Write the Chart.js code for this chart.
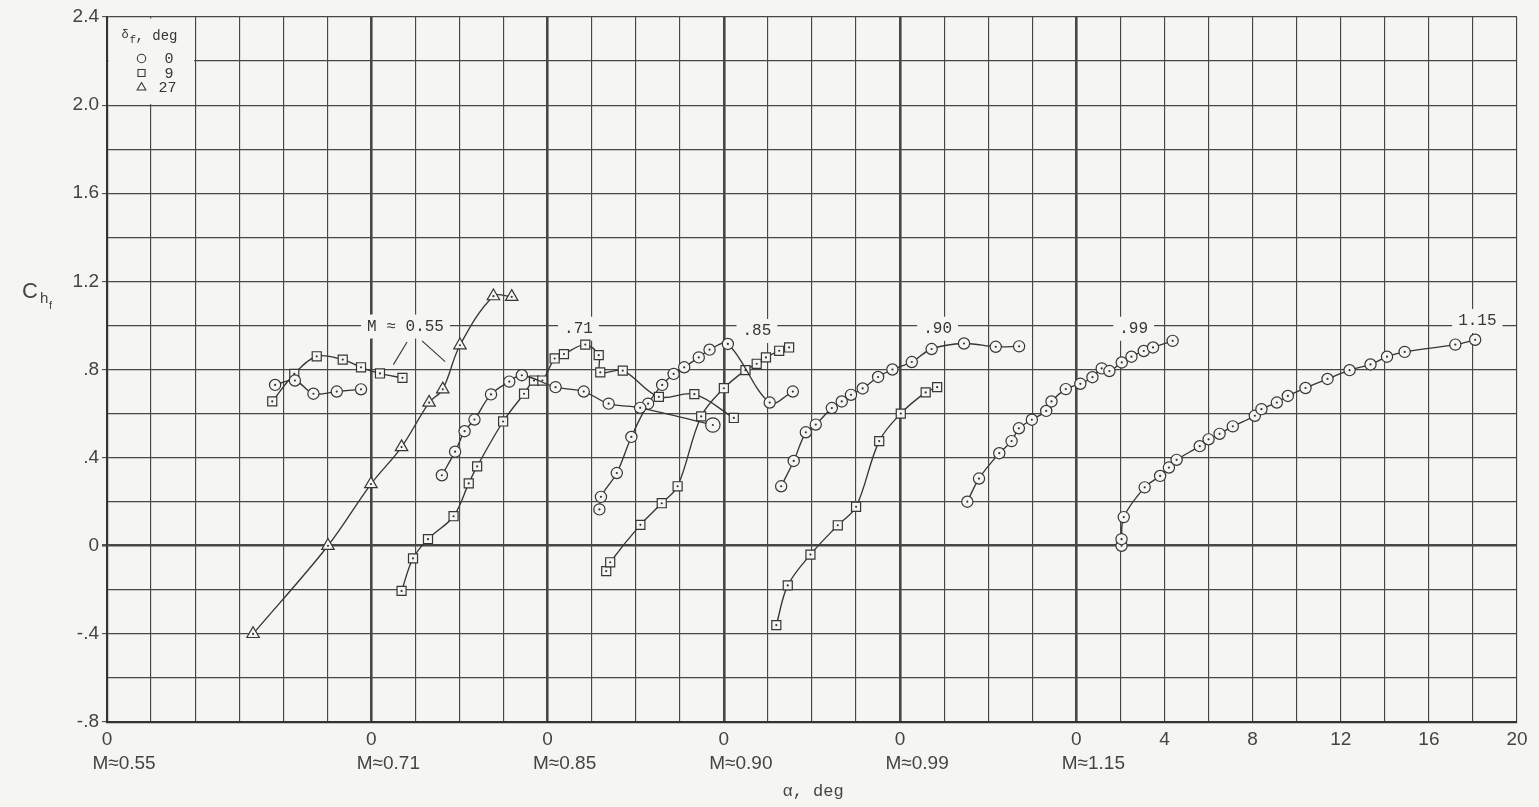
<!DOCTYPE html>
<html>
<head>
<meta charset="utf-8">
<script src="https://cdn.jsdelivr.net/npm/chart.js@4.4.1/dist/chart.umd.min.js"></script>
<style>
  html, body { margin: 0; padding: 0; background: #f5f5f2; }
  #wrap { width: 1539px; height: 807px; position: relative; }
  canvas { display: block; }
</style>
</head>
<body>
<div id="wrap"><canvas id="chart"></canvas></div>
<script>
// Hinge-moment coefficient of the flap, C_hf, against angle of attack.
// Each Mach number has its own alpha origin along the shared horizontal axis.

const machLabels = ['M\u22480.55', 'M\u22480.71', 'M\u22480.85', 'M\u22480.90', 'M\u22480.99', 'M\u22481.15'];
const alphaOrigin = [0, 12, 20, 28, 36, 44];          // axis position of alpha = 0 for each Mach number
const alphaTickValues = [4, 8, 12, 16, 20];          // extra alpha ticks on the M = 1.15 scale
const yLabelValues = [2.4, 2.0, 1.6, 1.2, 0.8, 0.4, 0, -0.4, -0.8];
const yLabelText   = ['2.4', '2.0', '1.6', '1.2', '.8', '.4', '0', '-.4', '-.8'];
const flapDeflections = ['0', '9', '27'];            // delta_f, deg

// M = 0.55
const alpha055_d0  = [7.63, 8.53, 9.37, 10.43, 11.53];
const ch055_d0     = [0.73, 0.75, 0.69, 0.70, 0.71];
const alpha055_d9  = [7.5, 8.5, 9.52, 10.7, 11.53, 12.39, 13.41];
const ch055_d9     = [0.655, 0.78, 0.86, 0.845, 0.81, 0.782, 0.762];
const alpha055_d27 = [6.63, 10.03, 11.98, 13.37, 14.62, 15.24, 16.02, 17.54, 18.37];
const ch055_d27    = [-0.4, 0.0, 0.28, 0.448, 0.65, 0.71, 0.91, 1.133, 1.13];

// M = 0.71
const alpha071_d0 = [3.2, 3.8, 4.23, 4.68, 5.43, 6.26, 6.83, 8.36, 9.64, 10.77, 12.2, 15.5];
const ch071_d0    = [0.32, 0.427, 0.52, 0.573, 0.687, 0.745, 0.774, 0.72, 0.70, 0.645, 0.626, 0.548];
const alpha071_d9 = [1.37, 1.89, 2.57, 3.73, 4.42, 4.8, 5.98, 6.93, 7.38, 7.76, 8.32, 8.74, 9.71, 10.32, 10.39, 11.41, 13.05, 14.66, 16.45];
const ch071_d9    = [-0.205, -0.057, 0.03, 0.134, 0.283, 0.36, 0.564, 0.69, 0.75, 0.75, 0.85, 0.87, 0.913, 0.865, 0.787, 0.795, 0.676, 0.688, 0.58];

// M = 0.85
const alpha085_d0 = [2.35, 2.42, 3.14, 3.8, 4.56, 5.2, 5.72, 6.2, 6.86, 7.35, 8.18, 10.08, 11.13];
const ch085_d0    = [0.165, 0.222, 0.33, 0.494, 0.645, 0.73, 0.78, 0.81, 0.855, 0.89, 0.916, 0.65, 0.70];
const alpha085_d9 = [2.66, 2.84, 4.21, 5.18, 5.9, 6.97, 8.0, 8.98, 9.49, 9.91, 10.51, 10.96];
const ch085_d9    = [-0.115, -0.075, 0.095, 0.193, 0.27, 0.587, 0.715, 0.797, 0.826, 0.855, 0.885, 0.90];

// M = 0.90
const alpha090_d0 = [2.6, 3.17, 3.72, 4.17, 4.9, 5.35, 5.77, 6.3, 7.0, 7.65, 8.53, 9.43, 10.9, 12.34, 13.4];
const ch090_d0    = [0.27, 0.385, 0.515, 0.55, 0.625, 0.655, 0.685, 0.714, 0.766, 0.80, 0.834, 0.893, 0.918, 0.903, 0.905];
const alpha090_d9 = [2.38, 2.9, 3.93, 5.17, 6.0, 7.05, 8.03, 9.16, 9.68];
const ch090_d9    = [-0.36, -0.18, -0.04, 0.093, 0.177, 0.475, 0.60, 0.696, 0.72];

// M = 0.99
const alpha099_d0 = [3.05, 3.58, 4.5, 5.06, 5.39, 5.98, 6.63, 6.87, 7.52, 8.18, 8.73, 9.15, 9.5, 10.06, 10.5, 11.06, 11.48, 12.37];
const ch099_d0    = [0.2, 0.305, 0.42, 0.475, 0.533, 0.572, 0.612, 0.655, 0.711, 0.735, 0.765, 0.805, 0.793, 0.832, 0.858, 0.884, 0.9, 0.93];

// M = 1.15
const alpha115_d0 = [2.05, 2.05, 2.15, 3.1, 3.8, 4.2, 4.55, 5.6, 6.0, 6.5, 7.1, 8.1, 8.4, 9.1, 9.6, 10.4, 11.4, 12.4, 13.35, 14.1, 14.9, 17.2, 18.1];
const ch115_d0    = [0.0, 0.03, 0.13, 0.265, 0.317, 0.355, 0.39, 0.452, 0.483, 0.508, 0.542, 0.59, 0.62, 0.65, 0.68, 0.716, 0.757, 0.797, 0.823, 0.858, 0.88, 0.913, 0.935];

// Curve labels placed beside the data, in axis units
const curveNotes = [
  { text: 'M \u2248 0.55', x: 13.55, y: 0.995 },
  { text: '.71',  x: 21.4,  y: 0.985 },
  { text: '.85',  x: 29.5,  y: 0.975 },
  { text: '.90',  x: 37.7,  y: 0.985 },
  { text: '.99',  x: 46.6,  y: 0.985 },
  { text: '1.15', x: 62.2,  y: 1.02 }
];
const leaderLines = [
  [13.62, 0.925, 13.0, 0.822],
  [14.3, 0.93, 15.35, 0.836]
];

const PAPER = '#f5f5f2';
const INK = '#363636';
const SANS = '"Liberation Sans", Arial, sans-serif';
const MONO = '"Liberation Mono", "DejaVu Sans Mono", monospace';
const markerStyle = { '0': 'circle', '9': 'rect', '27': 'triangle' };
const markerRadius = { '0': 5.6, '9': 6.4, '27': 7.2 };

function series(machIdx, delta, alphas, chs, radii) {
  return {
    label: machLabels[machIdx] + ' \u03b4f=' + delta,
    data: alphas.map((a, i) => ({ x: alphaOrigin[machIdx] + a, y: chs[i] })),
    showLine: true,
    tension: 0.35,
    borderColor: INK,
    borderWidth: 1.35,
    pointStyle: markerStyle[delta],
    pointRadius: radii || markerRadius[delta],
    pointHoverRadius: radii || markerRadius[delta],
    pointBorderWidth: 1.2,
    pointBackgroundColor: PAPER,
    pointBorderColor: INK
  };
}

const bigEnd = alpha071_d0.map((_, i) => i === alpha071_d0.length - 1 ? 7.2 : markerRadius['0']);

const datasets = [
  series(0, '0', alpha055_d0, ch055_d0),
  series(0, '9', alpha055_d9, ch055_d9),
  series(0, '27', alpha055_d27, ch055_d27),
  series(1, '0', alpha071_d0, ch071_d0, bigEnd),
  series(1, '9', alpha071_d9, ch071_d9),
  series(2, '0', alpha085_d0, ch085_d0),
  series(2, '9', alpha085_d9, ch085_d9),
  series(3, '0', alpha090_d0, ch090_d0),
  series(3, '9', alpha090_d9, ch090_d9),
  series(4, '0', alpha099_d0, ch099_d0),
  series(5, '0', alpha115_d0, ch115_d0)
];

function near(a, b) { return Math.abs(a - b) < 1e-6; }

function xLabel(v) {
  if (alphaOrigin.some(o => near(o, v))) return '0';
  const last = alphaOrigin[alphaOrigin.length - 1];
  const k = alphaTickValues.findIndex(t => near(last + t, v));
  return k >= 0 ? String(alphaTickValues[k]) : '';
}
function yLabel(v) {
  const k = yLabelValues.findIndex(t => near(t, v));
  return k >= 0 ? yLabelText[k] : '';
}

const paperPlugin = {
  id: 'paper',
  beforeDraw(chart) {
    const c = chart.ctx;
    c.save();
    c.fillStyle = PAPER;
    c.fillRect(0, 0, chart.width, chart.height);
    c.restore();
  }
};

const notesPlugin = {
  id: 'notes',
  beforeDatasetsDraw(chart) {
    const c = chart.ctx, xs = chart.scales.x, ys = chart.scales.y;
    c.save();
    // legend panel in the top-left grid block
    const lx0 = xs.getPixelForValue(0) + 1.5, lx1 = xs.getPixelForValue(4) - 1;
    const ly0 = ys.getPixelForValue(2.4) + 1.5, ly1 = ys.getPixelForValue(2.0) - 1;
    c.fillStyle = PAPER;
    c.fillRect(lx0, ly0, lx1 - lx0, ly1 - ly0);

    // curve labels with a cleared background
    c.font = '16px ' + MONO;
    c.textBaseline = 'middle';
    c.textAlign = 'center';
    curveNotes.forEach(n => {
      const px = xs.getPixelForValue(n.x), py = ys.getPixelForValue(n.y);
      const w = c.measureText(n.text).width;
      c.fillStyle = PAPER;
      c.fillRect(px - w / 2 - 6, py - 12, w + 12, 24);
    });
    c.fillStyle = INK;
    curveNotes.forEach(n => {
      c.fillText(n.text, xs.getPixelForValue(n.x), ys.getPixelForValue(n.y));
    });
    c.strokeStyle = INK;
    c.lineWidth = 1.1;
    leaderLines.forEach(l => {
      c.beginPath();
      c.moveTo(xs.getPixelForValue(l[0]), ys.getPixelForValue(l[1]));
      c.lineTo(xs.getPixelForValue(l[2]), ys.getPixelForValue(l[3]));
      c.stroke();
    });

    // legend content
    const tx = lx0 + 13, ty = ly0 + 18;
    c.textAlign = 'left';
    c.font = '12px ' + MONO;
    c.fillText('\u03b4', tx, ty - 2);
    c.font = '11px ' + MONO;
    c.fillText('f', tx + 8, ty + 4);
    c.font = '14px ' + MONO;
    c.fillText(', deg', tx + 14, ty);
    flapDeflections.forEach((d, i) => {
      const sy = ty + 22 + i * 14.5;
      c.fillStyle = PAPER;
      c.strokeStyle = INK;
      Chart.helpers.drawPoint(c, { pointStyle: markerStyle[d], rotation: 0, radius: d === '0' ? 4.2 : 5, borderWidth: 1 }, tx + 20, sy);
      c.fillStyle = INK;
      c.font = '15px ' + MONO;
      c.fillText(d, d === '27' ? tx + 37 : tx + 43, sy + 1);
    });
    c.restore();
  },
  afterDatasetsDraw(chart) {
    const c = chart.ctx;
    c.save();
    c.fillStyle = INK;
    chart.data.datasets.forEach((ds, i) => {
      chart.getDatasetMeta(i).data.forEach(pt => {
        c.beginPath();
        c.arc(pt.x, pt.y, 1.1, 0, Math.PI * 2);
        c.fill();
      });
    });
    c.restore();
  },
  afterDraw(chart) {
    const c = chart.ctx, xs = chart.scales.x, area = chart.chartArea;
    c.save();
    c.fillStyle = '#444';
    c.textBaseline = 'middle';
    c.textAlign = 'center';
    c.font = '19px ' + SANS;
    machLabels.forEach((m, i) => {
      c.fillText(m, xs.getPixelForValue(alphaOrigin[i]) + 17, area.bottom + 42);
    });
    c.font = '17px ' + MONO;
    c.fillText('\u03b1, deg', xs.getPixelForValue(32.05), area.bottom + 69);
    // ordinate title C_hf
    c.textAlign = 'left';
    c.font = '22px ' + SANS;
    c.fillText('C', 22, 292);
    c.font = '15px ' + SANS;
    c.fillText('h', 40, 299);
    c.font = '11px ' + SANS;
    c.fillText('f', 49, 306);
    c.restore();
  }
};

new Chart(document.getElementById('chart'), {
  type: 'scatter',
  data: { datasets },
  options: {
    responsive: true,
    maintainAspectRatio: false,
    devicePixelRatio: 1,
    animation: false,
    layout: { padding: { top: 17, right: 22, left: 0, bottom: 0 } },
    plugins: { legend: { display: false }, tooltip: { enabled: false } },
    scales: {
      x: {
        type: 'linear',
        min: 0, max: 64,
        afterBuildTicks(s) {
          s.ticks = [];
          for (let v = 0; v <= 64; v += 2) s.ticks.push({ value: v });
        },
        afterFit(s) { s.height = 85; },
        ticks: {
          autoSkip: false, maxRotation: 0, minRotation: 0, padding: 6,
          color: '#444', font: { family: SANS, size: 19 },
          callback: v => xLabel(v)
        },
        grid: {
          color: '#474747',
          drawTicks: false,
          lineWidth: ctx => (ctx.tick && alphaOrigin.slice(1).some(o => near(o, ctx.tick.value))) ? 2.6 : 1.15
        },
        border: { display: true, color: '#333', width: 2.2 }
      },
      y: {
        type: 'linear',
        min: -0.8, max: 2.4,
        afterBuildTicks(s) {
          s.ticks = [];
          for (let i = 0; i <= 16; i++) s.ticks.push({ value: Math.round((-0.8 + i * 0.2) * 10) / 10 });
        },
        afterFit(s) { s.width = 107; },
        ticks: {
          padding: 3,
          color: '#444', font: { family: SANS, size: 19 },
          callback: v => yLabel(v)
        },
        grid: {
          color: '#474747',
          tickLength: 5,
          tickColor: ctx => (ctx.tick && yLabel(ctx.tick.value) !== '') ? '#555' : 'rgba(0,0,0,0)',
          lineWidth: ctx => (ctx.tick && near(ctx.tick.value, 0)) ? 2.6 : 1.15
        },
        border: { display: true, color: '#333', width: 2.2 }
      }
    }
  },
  plugins: [paperPlugin, notesPlugin]
});
</script>
</body>
</html>
